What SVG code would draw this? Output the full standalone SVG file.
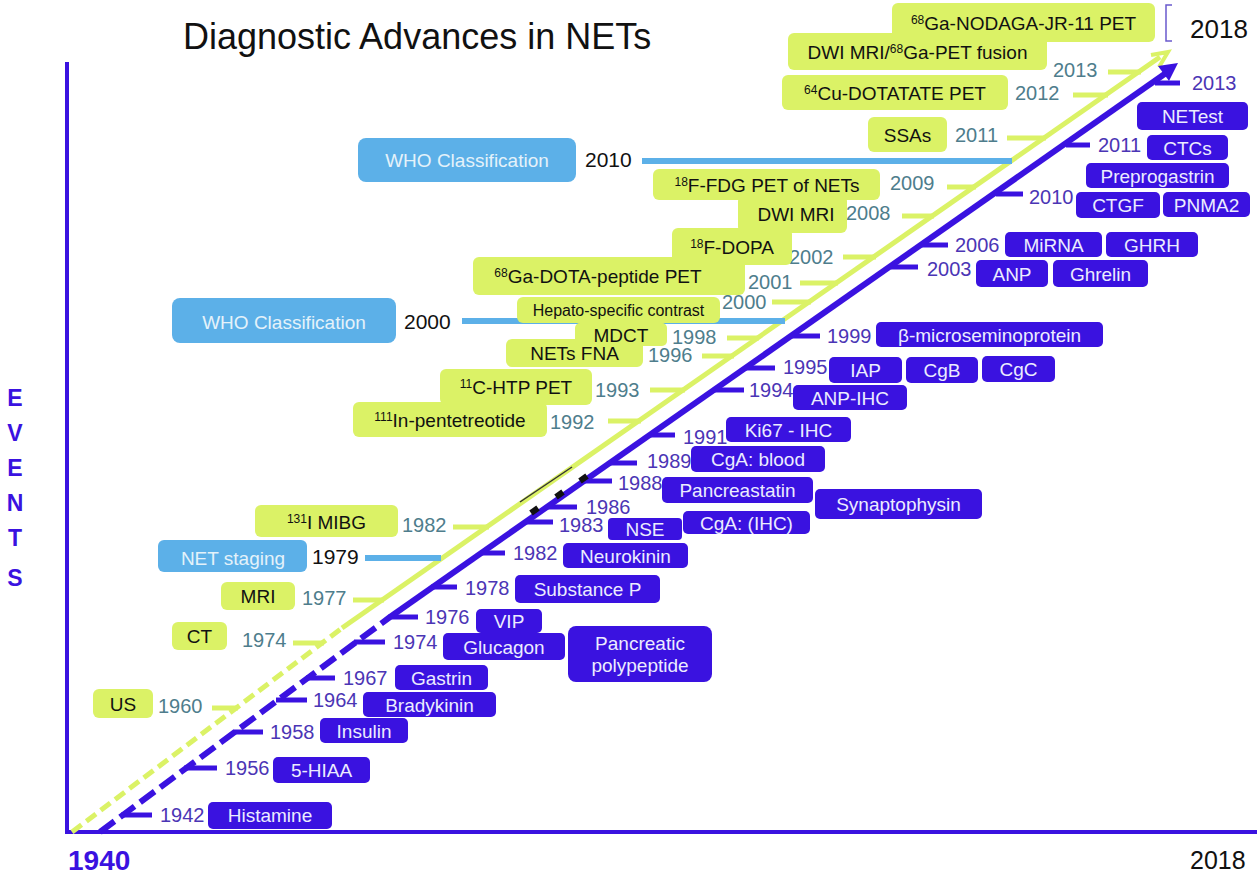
<svg xmlns="http://www.w3.org/2000/svg" width="1257" height="876" viewBox="0 0 1257 876">
<style>
text{font-family:"Liberation Sans",Arial,sans-serif}
.t{font-size:19px}
.yrs{font-size:20px}
.yb{fill:#dbf266}
.bb{fill:#3a12e0}
.wb{fill:#5cb0e8}
.tw{fill:#ececff;text-anchor:middle}
.tk{fill:#111;text-anchor:middle}
.tl{fill:#e4f2fa;text-anchor:middle}
.yr{fill:#4b35b5}
.yt{fill:#4e7d8c}
.yk{fill:#111;font-size:21px}
.sup{font-size:12px}
.bt{stroke:#3a12e0;stroke-width:5;fill:none}
.gt{stroke:#dbf266;stroke-width:5;fill:none}
.wl{stroke:#5cb0e8;stroke-width:6;fill:none}
.ev{fill:#3a12e0;font-size:23px;font-weight:bold;text-anchor:middle}
</style>
<rect width="1257" height="876" fill="#fff"/>
<text x="183" y="49" font-size="36" fill="#111">Diagnostic Advances in NETs</text>
<g id="axes">
<line x1="67" y1="62" x2="67" y2="834" stroke="#3a12e0" stroke-width="4"/>
<line x1="65" y1="832" x2="1257" y2="832" stroke="#3a12e0" stroke-width="4"/>
<text class="ev" x="15" y="406">E</text>
<text class="ev" x="15" y="441">V</text>
<text class="ev" x="15" y="476">E</text>
<text class="ev" x="15" y="511">N</text>
<text class="ev" x="15" y="546">T</text>
<text class="ev" x="15" y="586">S</text>
<text x="68" y="870" font-size="28" font-weight="bold" fill="#3a12e0">1940</text>
<text x="1190" y="869" font-size="25" fill="#111">2018</text>
<text x="1190" y="38" font-size="26" fill="#111">2018</text>
<path d="M1172,5 H1166 V41 H1172" stroke="#6a5acd" stroke-width="1.5" fill="none"/>
</g>
<g id="connectors">
<line x1="72" y1="832" x2="342" y2="628" stroke="#dbf266" stroke-width="5" stroke-dasharray="12 6"/>
<line x1="342" y1="628" x2="1160" y2="57" stroke="#dbf266" stroke-width="5"/>
<polyline points="1151,55 1168,52 1159,67" stroke="#dbf266" stroke-width="4" fill="none"/>
<line x1="100" y1="832" x2="390" y2="617" stroke="#3a12e0" stroke-width="6" stroke-dasharray="18 7"/>
<line x1="390" y1="617" x2="1166" y2="73" stroke="#3a12e0" stroke-width="6"/>
<polygon points="1178,63 1169,81 1158,66" fill="#3a12e0"/>
<line class="bt" x1="121" y1="815" x2="152" y2="815"/>
<line class="bt" x1="184" y1="768" x2="217" y2="768"/>
<line class="bt" x1="233" y1="732" x2="263" y2="732"/>
<line class="bt" x1="276" y1="700" x2="307" y2="700"/>
<line class="bt" x1="306" y1="678" x2="335" y2="678"/>
<line class="bt" x1="354" y1="642" x2="385" y2="642"/>
<line class="bt" x1="388" y1="617" x2="418" y2="617"/>
<line class="bt" x1="431" y1="587" x2="457" y2="587"/>
<line class="bt" x1="480" y1="553" x2="505" y2="553"/>
<line class="bt" x1="525" y1="522" x2="553" y2="522"/>
<line class="bt" x1="547" y1="507" x2="577" y2="507"/>
<line class="bt" x1="583" y1="481" x2="612" y2="481"/>
<line class="bt" x1="609" y1="463" x2="637" y2="463"/>
<line class="bt" x1="649" y1="435" x2="675" y2="435"/>
<line class="bt" x1="714" y1="390" x2="744" y2="390"/>
<line class="bt" x1="746" y1="368" x2="775" y2="368"/>
<line class="bt" x1="792" y1="336" x2="820" y2="336"/>
<line class="bt" x1="891" y1="267" x2="918" y2="267"/>
<line class="bt" x1="922" y1="245" x2="948" y2="245"/>
<line class="bt" x1="996" y1="194" x2="1023" y2="194"/>
<line class="bt" x1="1066" y1="145" x2="1090" y2="145"/>
<line class="bt" x1="1155" y1="83" x2="1180" y2="83"/>
<line class="gt" x1="212" y1="708" x2="238" y2="708"/>
<line class="gt" x1="293" y1="643" x2="324" y2="643"/>
<line class="gt" x1="353" y1="600" x2="384" y2="600"/>
<line class="gt" x1="453" y1="527" x2="489" y2="527"/>
<line class="gt" x1="608" y1="421" x2="641" y2="421"/>
<line class="gt" x1="650" y1="390" x2="685" y2="390"/>
<line class="gt" x1="702" y1="356" x2="734" y2="356"/>
<line class="gt" x1="727" y1="338" x2="759" y2="338"/>
<line class="gt" x1="772" y1="302" x2="811" y2="302"/>
<line class="gt" x1="800" y1="283" x2="838" y2="283"/>
<line class="gt" x1="843" y1="257" x2="876" y2="257"/>
<line class="gt" x1="902" y1="216" x2="934" y2="216"/>
<line class="gt" x1="947" y1="187" x2="976" y2="187"/>
<line class="gt" x1="1007" y1="138" x2="1046" y2="138"/>
<line class="gt" x1="1073" y1="95" x2="1108" y2="95"/>
<line class="gt" x1="1108" y1="72" x2="1141" y2="72"/>
<line class="wl" x1="365" y1="558" x2="441" y2="558"/>
<line class="wl" x1="462" y1="321" x2="785" y2="321"/>
<line class="wl" x1="642" y1="161" x2="1012" y2="161"/>
<line x1="520" y1="502" x2="572" y2="467" stroke="#333" stroke-width="1.5"/>
<line x1="531" y1="513" x2="538" y2="508" stroke="#111" stroke-width="6"/>
<line x1="556" y1="497" x2="563" y2="492" stroke="#111" stroke-width="6"/>
<line x1="580" y1="481" x2="587" y2="476" stroke="#111" stroke-width="6"/>
</g>
<g id="years-blue" class="yrs yr">
<text x="160" y="822">1942</text>
<text x="225" y="775">1956</text>
<text x="270" y="739">1958</text>
<text x="313" y="707">1964</text>
<text x="343" y="685">1967</text>
<text x="393" y="649">1974</text>
<text x="425" y="624">1976</text>
<text x="465" y="595">1978</text>
<text x="513" y="560">1982</text>
<text x="559" y="532">1983</text>
<text x="586" y="514">1986</text>
<text x="618" y="490">1988</text>
<text x="647" y="468">1989</text>
<text x="683" y="444">1991</text>
<text x="749" y="397">1994</text>
<text x="783" y="374">1995</text>
<text x="827" y="343">1999</text>
<text x="927" y="276">2003</text>
<text x="955" y="252">2006</text>
<text x="1029" y="204">2010</text>
<text x="1098" y="152">2011</text>
<text x="1192" y="90">2013</text>
</g>
<g id="years-teal" class="yrs yt">
<text x="158" y="713">1960</text>
<text x="242" y="647">1974</text>
<text x="302" y="605">1977</text>
<text x="402" y="532">1982</text>
<text x="550" y="429">1992</text>
<text x="595" y="397">1993</text>
<text x="648" y="362">1996</text>
<text x="672" y="344">1998</text>
<text x="722" y="309">2000</text>
<text x="748" y="289">2001</text>
<text x="789" y="264">2002</text>
<text x="846" y="220">2008</text>
<text x="890" y="190">2009</text>
<text x="955" y="142">2011</text>
<text x="1015" y="100">2012</text>
<text x="1053" y="77">2013</text>
</g>
<g id="years-black">
<text class="yk" x="312" y="564">1979</text>
<text class="yk" x="404" y="329">2000</text>
<text class="yk" x="585" y="167">2010</text>
</g>
<g id="n-histamine"><rect class="bb" x="208" y="802" width="124" height="27" rx="5"/><text class="t tw" x="270" y="822">Histamine</text></g>
<g id="n-5hiaa"><rect class="bb" x="273" y="757" width="97" height="26" rx="5"/><text class="t tw" x="321.5" y="777">5-HIAA</text></g>
<g id="n-insulin"><rect class="bb" x="320" y="718" width="88" height="25" rx="5"/><text class="t tw" x="364" y="737.5">Insulin</text></g>
<g id="n-bradykinin"><rect class="bb" x="363" y="692" width="133" height="25" rx="5"/><text class="t tw" x="429.5" y="711.5">Bradykinin</text></g>
<g id="n-gastrin"><rect class="bb" x="395" y="665" width="93" height="25" rx="5"/><text class="t tw" x="441.5" y="684.5">Gastrin</text></g>
<g id="n-glucagon"><rect class="bb" x="443" y="633" width="122" height="27" rx="5"/><text class="t tw" x="504" y="653.5">Glucagon</text></g>
<g id="n-vip"><rect class="bb" x="476" y="609" width="66" height="24" rx="5"/><text class="t tw" x="509" y="628">VIP</text></g>
<g id="n-pp"><rect class="bb" x="568" y="626" width="144" height="56" rx="8"/><text class="t tw" x="640" y="650">Pancreatic</text><text class="t tw" x="640" y="672">polypeptide</text></g>
<g id="n-substancep"><rect class="bb" x="515" y="575" width="145" height="28" rx="5"/><text class="t tw" x="587.5" y="596">Substance P</text></g>
<g id="n-neurokinin"><rect class="bb" x="563" y="543" width="125" height="25" rx="5"/><text class="t tw" x="625.5" y="562.5">Neurokinin</text></g>
<g id="n-nse"><rect class="bb" x="608" y="518" width="74" height="22" rx="4"/><text class="t tw" x="645" y="536">NSE</text></g>
<g id="n-cgaihc"><rect class="bb" x="683" y="511" width="127" height="23" rx="5"/><text class="t tw" x="746.5" y="529.5">CgA: (IHC)</text></g>
<g id="n-pancreastatin"><rect class="bb" x="662" y="477" width="151" height="26" rx="5"/><text class="t tw" x="737.5" y="497">Pancreastatin</text></g>
<g id="n-synaptophysin"><rect class="bb" x="815" y="489" width="167" height="30" rx="5"/><text class="t tw" x="898.5" y="511">Synaptophysin</text></g>
<g id="n-cgablood"><rect class="bb" x="691" y="446" width="134" height="26" rx="5"/><text class="t tw" x="758" y="466">CgA: blood</text></g>
<g id="n-ki67"><rect class="bb" x="726" y="417" width="125" height="25" rx="5"/><text class="t tw" x="788.5" y="436.5">Ki67 - IHC</text></g>
<g id="n-anpihc"><rect class="bb" x="793" y="385" width="114" height="25" rx="5"/><text class="t tw" x="850" y="404.5">ANP-IHC</text></g>
<g id="n-iap"><rect class="bb" x="829" y="357" width="73" height="26" rx="5"/><text class="t tw" x="865.5" y="377">IAP</text></g>
<g id="n-cgb"><rect class="bb" x="906" y="357" width="72" height="26" rx="5"/><text class="t tw" x="942" y="377">CgB</text></g>
<g id="n-cgc"><rect class="bb" x="982" y="356" width="73" height="26" rx="5"/><text class="t tw" x="1018.5" y="376">CgC</text></g>
<g id="n-bmsp"><rect class="bb" x="876" y="322" width="227" height="25" rx="5"/><text class="t tw" x="989.5" y="341.5">β-microseminoprotein</text></g>
<g id="n-anp"><rect class="bb" x="976" y="260" width="72" height="27" rx="5"/><text class="t tw" x="1012" y="280.5">ANP</text></g>
<g id="n-ghrelin"><rect class="bb" x="1053" y="260" width="95" height="27" rx="5"/><text class="t tw" x="1100.5" y="280.5">Ghrelin</text></g>
<g id="n-mirna"><rect class="bb" x="1005" y="232" width="97" height="25" rx="5"/><text class="t tw" x="1053.5" y="251.5">MiRNA</text></g>
<g id="n-ghrh"><rect class="bb" x="1106" y="232" width="92" height="25" rx="5"/><text class="t tw" x="1152" y="251.5">GHRH</text></g>
<g id="n-ctgf"><rect class="bb" x="1076" y="192" width="84" height="26" rx="5"/><text class="t tw" x="1118" y="212">CTGF</text></g>
<g id="n-pnma2"><rect class="bb" x="1163" y="192" width="87" height="25" rx="5"/><text class="t tw" x="1206.5" y="211.5">PNMA2</text></g>
<g id="n-preprogastrin"><rect class="bb" x="1086" y="163" width="143" height="25" rx="5"/><text class="t tw" x="1157.5" y="182.5">Preprogastrin</text></g>
<g id="n-ctcs"><rect class="bb" x="1147" y="135" width="81" height="25" rx="5"/><text class="t tw" x="1187.5" y="154.5">CTCs</text></g>
<g id="n-netest"><rect class="bb" x="1137" y="102" width="111" height="28" rx="5"/><text class="t tw" x="1192.5" y="123">NETest</text></g>
<g id="n-netstaging"><rect class="wb" x="158" y="540" width="149" height="32" rx="6"/><text class="t tl" x="233" y="565">NET staging</text></g>
<g id="n-who2000"><rect class="wb" x="172" y="298" width="224" height="45" rx="8"/><text class="t tl" x="284" y="329">WHO Classification</text></g>
<g id="n-who2010"><rect class="wb" x="358" y="138" width="218" height="44" rx="8"/><text class="t tl" x="467" y="167">WHO Classification</text></g>
<g id="n-us"><rect class="yb" x="93" y="689" width="60" height="29" rx="6"/><text class="t tk" x="123" y="710.5">US</text></g>
<g id="n-ct"><rect class="yb" x="172" y="622" width="55" height="28" rx="6"/><text class="t tk" x="199.5" y="643">CT</text></g>
<g id="n-mri"><rect class="yb" x="221" y="582" width="74" height="28" rx="6"/><text class="t tk" x="258" y="603">MRI</text></g>
<g id="n-mibg"><rect class="yb" x="255" y="505" width="143" height="32" rx="6"/><text class="t tk" x="326.5" y="529"><tspan class="sup" dy="-6">131</tspan><tspan dy="6">I MIBG</tspan></text></g>
<g id="n-inpent"><rect class="yb" x="353" y="402" width="194" height="35" rx="6"/><text class="t tk" x="450" y="427"><tspan class="sup" dy="-6">111</tspan><tspan dy="6">In-pentetreotide</tspan></text></g>
<g id="n-chtp"><rect class="yb" x="440" y="369" width="152" height="36" rx="6"/><text class="t tk" x="516" y="394"><tspan class="sup" dy="-6">11</tspan><tspan dy="6">C-HTP PET</tspan></text></g>
<g id="n-netsfna"><rect class="yb" x="506" y="339" width="137" height="28" rx="6"/><text class="t tk" x="574.5" y="360">NETs FNA</text></g>
<g id="n-mdct"><rect class="yb" x="575" y="323" width="92" height="23" rx="5"/><text class="t tk" x="621" y="341.5">MDCT</text></g>
<g id="n-hepato"><rect class="yb" x="517" y="297" width="203" height="26" rx="6"/><text class="tk" x="618.5" y="315.5" font-size="16">Hepato-specific contrast</text></g>
<g id="n-gadota"><rect class="yb" x="473" y="257" width="272" height="38" rx="6"/><text class="t tk" x="598" y="283"><tspan class="sup" dy="-6">68</tspan><tspan dy="6">Ga-DOTA-peptide PET</tspan></text></g>
<g id="n-fdopa"><rect class="yb" x="672" y="228" width="120" height="37" rx="6"/><text class="t tk" x="732" y="253.5"><tspan class="sup" dy="-6">18</tspan><tspan dy="6">F-DOPA</tspan></text></g>
<g id="n-dwimri"><rect class="yb" x="738" y="195" width="109" height="38" rx="6"/><text class="t tk" x="796" y="221">DWI MRI</text></g>
<g id="n-fdg"><rect class="yb" x="653" y="169" width="227" height="31" rx="6"/><text class="t tk" x="767" y="192"><tspan class="sup" dy="-6">18</tspan><tspan dy="6">F-FDG PET of NETs</tspan></text></g>
<g id="n-ssas"><rect class="yb" x="868" y="117" width="79" height="35" rx="6"/><text class="t tk" x="907.5" y="141.5">SSAs</text></g>
<g id="n-cudotatate"><rect class="yb" x="782" y="75" width="226" height="35" rx="6"/><text class="t tk" x="895" y="99.5"><tspan class="sup" dy="-6">64</tspan><tspan dy="6">Cu-DOTATATE PET</tspan></text></g>
<g id="n-dwifusion"><rect class="yb" x="788" y="33" width="259" height="37" rx="6"/><text class="t tk" x="917.5" y="58.5">DWI MRI/<tspan class="sup" dy="-6">68</tspan><tspan dy="6">Ga-PET fusion</tspan></text></g>
<g id="n-nodaga"><rect class="yb" x="892" y="3" width="263" height="39" rx="6"/><text class="t tk" x="1023.5" y="29.5"><tspan class="sup" dy="-6">68</tspan><tspan dy="6">Ga-NODAGA-JR-11 PET</tspan></text></g>
</svg>
